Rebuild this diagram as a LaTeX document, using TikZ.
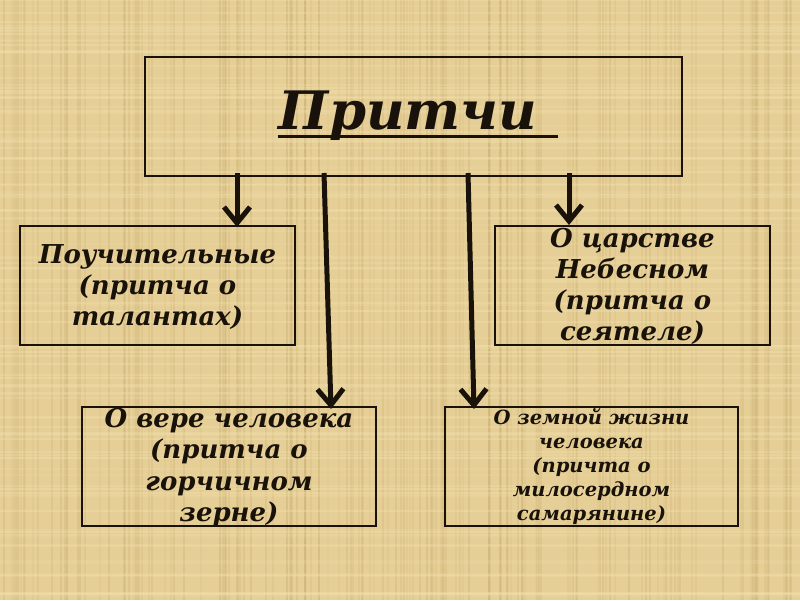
\documentclass[tikz,border=0pt]{standalone}
\usepackage{fontspec}
\setmainfont{DejaVu Serif}
\usetikzlibrary{arrows.meta}
\definecolor{parch}{RGB}{230,207,150}
\definecolor{parchdark}{RGB}{200,172,112}
\definecolor{parchlight}{RGB}{242,225,175}
\definecolor{ink}{RGB}{24,18,10}
\tikzset{
  box/.style={draw=ink, line width=2pt, inner sep=0pt},
  label/.style={text=ink, align=center, inner sep=0pt, font=\bfseries\itshape},
  arr/.style={draw=ink, line width=5pt, -{Straight Barb[length=16pt,width=26pt]}},
}
\begin{document}
\begin{tikzpicture}[x=1pt,y=-1pt]
\useasboundingbox (0,0) rectangle (800,600);
\fill[parch] (0,0) rectangle (800,600);
\pgfmathsetseed{7}
\foreach \i in {1,...,160}{
  \pgfmathsetmacro{\xx}{random(0,800)}
  \pgfmathsetmacro{\op}{0.12+0.22*rnd}
  \draw[parchdark, opacity=\op, line width=1.2pt] (\xx,0) -- (\xx,600);
}
\foreach \i in {1,...,120}{
  \pgfmathsetmacro{\yy}{random(0,600)}
  \pgfmathsetmacro{\op}{0.15+0.25*rnd}
  \draw[parchlight, opacity=\op, line width=1.5pt] (0,\yy) -- (800,\yy);
}
% boxes
\node[box, minimum width=537pt, minimum height=119pt] (title) at (413.5,116.5) {};
\node[box, minimum width=275pt, minimum height=119pt] (b1) at (157.5,285.5) {};
\node[box, minimum width=275pt, minimum height=119pt] (b2) at (632.5,285.5) {};
\node[box, minimum width=294pt, minimum height=119pt] (b3) at (229,466.5) {};
\node[box, minimum width=293pt, minimum height=119pt] (b4) at (591.5,466.5) {};
% texts
\node[label, anchor=base, font=\bfseries\itshape\fontsize{53}{60}\selectfont] (t0) at (408,129) {Притчи};
\draw[ink, line width=3.5pt] ([xshift=-1pt,yshift=-7.5pt]t0.base west) coordinate (ul1) -- ([xshift=21pt,yshift=-7.5pt]t0.base east) coordinate (ul2);
\node[label, font=\bfseries\itshape\fontsize{26}{31}\selectfont] (t1) at ([yshift=-2pt]b1.center) {Поучительные\\(притча о\\талантах)};
\node[label, font=\bfseries\itshape\fontsize{26}{31}\selectfont] (t2) at ([yshift=-1pt]b2.center) {О царстве\\Небесном\\(притча о\\сеятеле)};
\node[label, font=\bfseries\itshape\fontsize{26}{31.5}\selectfont] (t3) at ([yshift=-1pt]b3.center) {О вере человека\\(притча о\\горчичном\\зерне)};
\node[label, font=\bfseries\itshape\fontsize{19.5}{24.2}\selectfont] (t4) at (b4.center) {О земной жизни\\человека\\(причта о\\милосердном\\самарянине)};
% arrows
\draw[arr] ([xshift=-176.5pt,yshift=4pt]title.south) -- ([xshift=79.5pt,yshift=-2pt]b1.north);
\draw[arr] ([xshift=-89.5pt,yshift=4pt]title.south) -- ([xshift=102pt,yshift=-3pt]b3.north);
\draw[arr] ([xshift=54.5pt,yshift=4pt]title.south) -- ([xshift=-117.5pt,yshift=-3pt]b4.north);
\draw[arr] ([xshift=155.5pt,yshift=4pt]title.south) -- ([xshift=-63.5pt,yshift=0pt]b2.north);
\end{tikzpicture}
\end{document}
